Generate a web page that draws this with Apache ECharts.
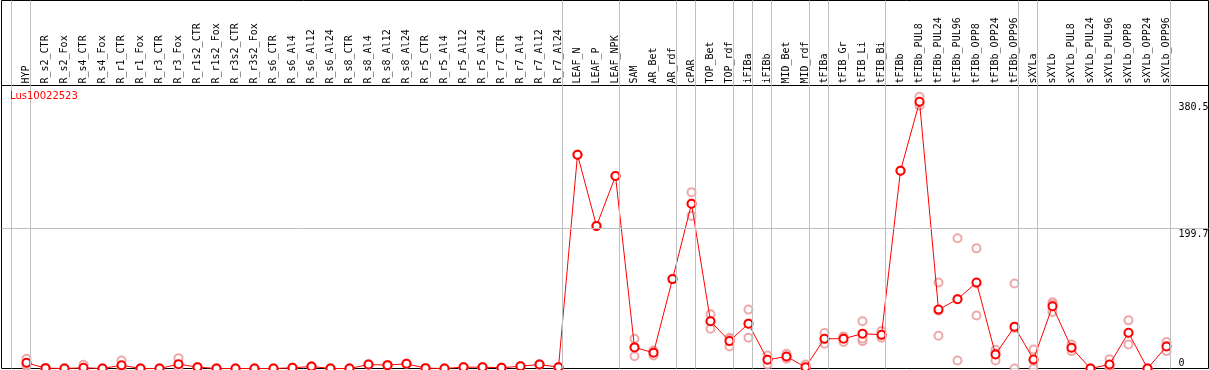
<!DOCTYPE html>
<html>
<head>
<meta charset="utf-8">
<script src="https://cdn.jsdelivr.net/npm/echarts@6/dist/echarts.min.js"></script>
<style>
html,body{margin:0;padding:0;background:#fff;}
#chart{width:1209px;height:370px;}
</style>
</head>
<body>
<div id="chart"></div>
<script>
const chartTitle = 'Lus10022523';
const categories = ['HYP','R_s2_CTR','R_s2_Fox','R_s4_CTR','R_s4_Fox','R_r1_CTR','R_r1_Fox','R_r3_CTR','R_r3_Fox','R_r1s2_CTR','R_r1s2_Fox','R_r3s2_CTR','R_r3s2_Fox','R_s6_CTR','R_s6_Al4','R_s6_Al12','R_s6_Al24','R_s8_CTR','R_s8_Al4','R_s8_Al12','R_s8_Al24','R_r5_CTR','R_r5_Al4','R_r5_Al12','R_r5_Al24','R_r7_CTR','R_r7_Al4','R_r7_Al12','R_r7_Al24','LEAF_N','LEAF_P','LEAF_NPK','SAM','AR_Bet','AR_rdf','cPAR','TOP_Bet','TOP_rdf','iFIBa','iFIBb','MID_Bet','MID_rdf','tFIBa','tFIB_Gr','tFIB_Li','tFIB_Bi','tFIBb','tFIBb_PUL8','tFIBb_PUL24','tFIBb_PUL96','tFIBb_OPP8','tFIBb_OPP24','tFIBb_OPP96','sXYLa','sXYLb','sXYLb_PUL8','sXYLb_PUL24','sXYLb_PUL96','sXYLb_OPP8','sXYLb_OPP24','sXYLb_OPP96'];
// first category of each tissue group (group separators)
const groupStarts = ['HYP','R_s2_CTR','LEAF_N','SAM','cPAR','TOP_Bet','iFIBa','iFIBb','MID_Bet','tFIBa','tFIB_Gr','tFIBb','sXYLa','sXYLb'];
const meanValues = [8.2,0.5,0,1,0,4.7,0,0,6.2,1.9,0,0,0,0,1,2.9,0,0,5.7,4.8,6.7,0.5,0,1.9,1.9,1,3.3,5.7,1.9,
  305,203.4,274.5,30.1,22.5,127.5,234.9,67.3,39.1,64,12.4,17.2,1.9,42.5,42.5,49.7,48.2,282.1,380.5,84,98.8,122.7,20,59.7,12.9,88.8,29.6,0,5.7,51.1,0,31.5];
const rep1 = [13.9,0.5,0,5.3,0,11.5,0,0,14.8,1.9,0,0,0,0,1,2.9,0,0,5.7,4.8,6.7,0.5,0,1.9,1.9,1,3.3,5.7,1.9,
  305,203.4,274.5,42.5,25.8,127.5,251.6,77.3,43.9,84,18.6,21,5.7,50.6,45.8,67.3,53.4,282.1,387.7,122.7,185.7,171.4,26.8,121.3,27.2,94.5,34.4,0,13.3,68.7,0,37.7];
const rep2 = [3.5,0.5,0,0,0,2.5,0,0,3.8,1.9,0,0,0,0,1,2.9,0,0,5.7,4.8,6.7,0.5,0,1.9,1.9,1,3.3,5.7,1.9,
  305,203.4,274.5,17.6,18.6,127.5,217.7,56.8,31.5,43.9,5.7,14,0,35.3,37.7,39.1,43.9,282.1,379,46.8,11.5,75.5,11.5,0,0,80.6,24.8,0,0,34.4,0,24.8];
const rep3 = [7.2,0.5,0,0,0,0,0,0,0,1.9,0,0,0,0,1,2.9,0,0,5.7,4.8,6.7,0.5,0,1.9,1.9,1,3.3,5.7,1.9,
  305,203.4,274.5,30.2,23,127.5,235.4,67.8,41.9,64.1,12.9,16.6,0,41.6,44,42.7,47.3,282.1,374.8,82.5,99.2,121.2,21.7,57.8,11.5,91.3,29.6,0,3.8,50.2,0,32];
const yTickValues = [0, 199.7, 380.5];
const yTickLabels = ['0', '199.7', '380.5'];
const gridLineValue = 199.7;

const chart = echarts.init(document.getElementById('chart'), null, {renderer: 'canvas'});
const catIdx = categories.map((c, i) => i);
const sepData = groupStarts.map(g => ({xAxis: categories.indexOf(g) - 15 / 19}));
sepData.push({xAxis: categories.length - 15 / 19});
const xMin = (1.5 - 26.5) / 19, xMax = (1208.5 - 26.5) / 19;

const repSeries = [rep1, rep2, rep3].map(r => ({
  type: 'scatter',
  xAxisIndex: 0, yAxisIndex: 0,
  data: r.map((v, i) => [i, v]),
  symbol: 'emptyCircle',
  symbolSize: 8,
  itemStyle: {color: '#e89494', borderWidth: 1},
  z: 2,
  silent: true
}));

const sepLine = {
  silent: true, symbol: 'none', animation: false,
  label: {show: false},
  lineStyle: {color: '#c0c0c0', type: 'solid', width: 1}
};

chart.setOption({
  animation: false,
  title: {
    text: chartTitle, left: 5, top: 86,
    textStyle: {color: '#ff0000', fontSize: 10, fontWeight: 'normal', fontFamily: 'DejaVu Sans'}
  },
  grid: [
    {left: 1.5, right: 0.5, top: 85.5, bottom: 1.5, show: true, borderColor: '#000', borderWidth: 1,
     backgroundColor: 'transparent', containLabel: false, outerBoundsMode: 'none'},
    {left: 1.5, right: 0.5, top: 0.5, height: 85, show: true, borderColor: '#000', borderWidth: 1,
     backgroundColor: 'transparent', containLabel: false, outerBoundsMode: 'none'}
  ],
  xAxis: [
    {
      type: 'value', gridIndex: 0, position: 'top',
      min: xMin, max: xMax,
      axisLine: {show: true, onZero: false, lineStyle: {color: '#000', width: 1}},
      axisTick: {show: false},
      splitLine: {show: false},
      axisLabel: {
        customValues: catIdx, rotate: -90, margin: 2, color: '#000',
        fontFamily: 'DejaVu Sans Mono', fontSize: 10,
        formatter: v => categories[Math.round(v)]
      }
    },
    {
      type: 'value', gridIndex: 1, min: xMin, max: xMax, show: false
    }
  ],
  yAxis: [
    {
      type: 'value', gridIndex: 0, position: 'right',
      min: 0, max: 283 / 0.701,
      axisLine: {show: false, onZero: false}, axisTick: {show: false}, splitLine: {show: false},
      axisLabel: {
        customValues: yTickValues, margin: -30, align: 'left', verticalAlign: 'middle',
        lineHeight: 11, color: '#000', fontFamily: 'DejaVu Sans Mono', fontSize: 10,
        formatter: v => {
          const lbl = yTickLabels[yTickValues.indexOf(v)];
          return v === 0 ? lbl + '\n ' : ' \n' + lbl;
        }
      }
    },
    {
      type: 'value', gridIndex: 1, min: 0, max: 1, show: false
    }
  ],
  series: [
    {
      type: 'line', data: [], xAxisIndex: 0, yAxisIndex: 0, z: 1, silent: true,
      markLine: Object.assign({}, sepLine, {data: sepData.concat([{yAxis: gridLineValue}])})
    },
    {
      type: 'line', data: [], xAxisIndex: 1, yAxisIndex: 1, z: 1, silent: true,
      markLine: Object.assign({}, sepLine, {data: sepData})
    },
    ...repSeries,
    {
      type: 'line',
      xAxisIndex: 0, yAxisIndex: 0,
      data: meanValues.map((v, i) => [i, v]),
      symbol: 'emptyCircle', symbolSize: 8,
      lineStyle: {color: '#ff0000', width: 1},
      itemStyle: {color: '#ff0000', borderWidth: 1.2},
      z: 3, silent: true
    }
  ]
});
</script>
</body>
</html>
